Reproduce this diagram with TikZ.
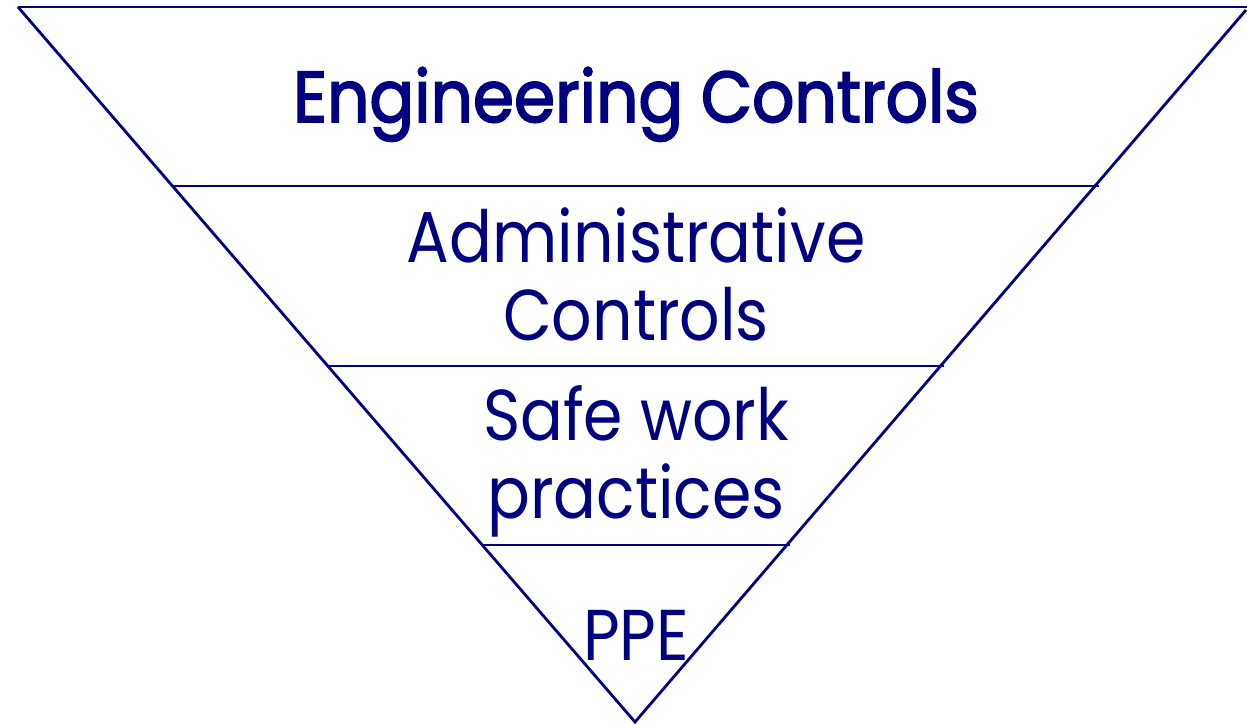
\documentclass[tikz,border=0pt]{standalone}
\usepackage{fontspec}
\setmainfont{Poppins}
\newfontfamily\titlefont{Poppins}[FakeBold=2.5]
\definecolor{navy}{HTML}{000080}
\begin{document}
\begin{tikzpicture}[x=1pt,y=-1pt,
  edge/.style={draw=navy,line width=2.8pt},
  lbl/.style={text=navy,anchor=base,inner sep=0pt,font=\fontsize{72}{78}\selectfont}]
\useasboundingbox (0,0) rectangle (1247,724);
\coordinate (tl) at (18,7);
\coordinate (tr) at (1247,7);
\coordinate (tr2) at (1246,10);
\coordinate (ap) at (635,722);
\draw[edge] (tl) -- (tr);
\draw[edge,line join=miter] (tl) -- (ap) -- (tr2);
\coordinate (l1) at (173,186); \coordinate (r1) at (1099,186);
\coordinate (l2) at (328,366); \coordinate (r2) at (944,366);
\coordinate (l3) at (482,545); \coordinate (r3) at (790,545);
\draw[edge] (l1) -- (r1);
\draw[edge] (l2) -- (r2);
\draw[edge] (l3) -- (r3);
\node[lbl,xscale=0.92,font=\fontsize{72}{78}\titlefont] (eng) at (636,122) {Engineering Controls};
\node[lbl,xscale=0.88] (adm1) at (636,262) {Administrative};
\node[lbl,xscale=0.88] (adm2) at (636,340) {Controls};
\node[lbl,xscale=0.88] (saf1) at (636,440) {Safe work};
\node[lbl,xscale=0.88] (saf2) at (636,518) {practices};
\node[lbl,xscale=0.88] (ppe) at (636,660) {PPE};
\end{tikzpicture}
\end{document}
